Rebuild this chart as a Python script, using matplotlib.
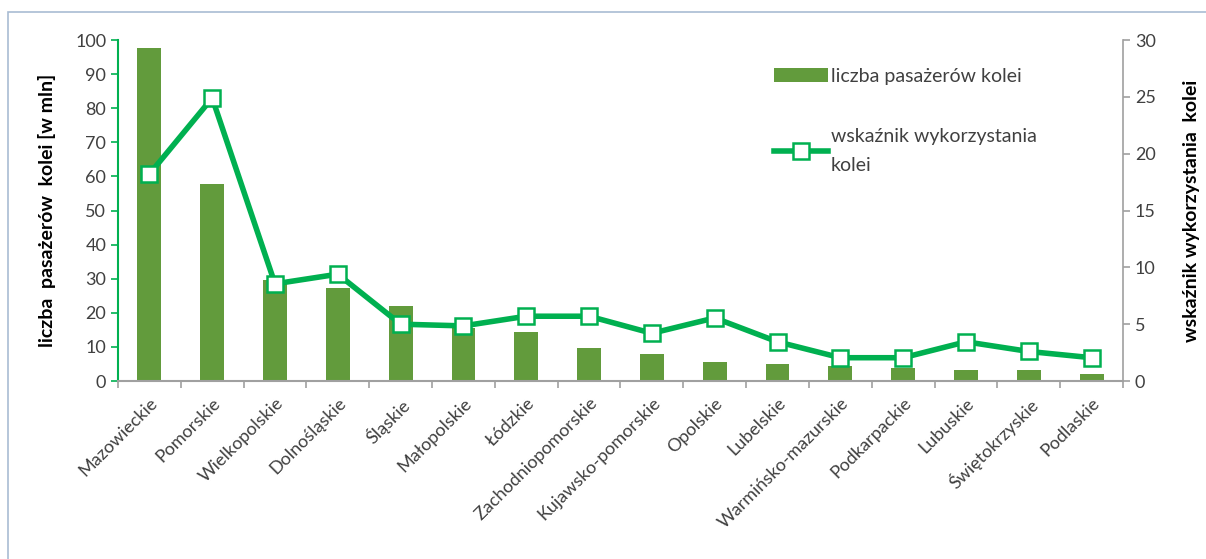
import matplotlib
matplotlib.use('Agg')
import numpy as np
import matplotlib.pyplot as plt
from matplotlib.patches import Rectangle

plt.rcParams['font.family'] = ['Lato', 'DejaVu Sans']

regiony = ['Mazowieckie', 'Pomorskie', 'Wielkopolskie', 'Dolnośląskie', 'Śląskie',
           'Małopolskie', 'Łódzkie', 'Zachodniopomorskie', 'Kujawsko-pomorskie',
           'Opolskie', 'Lubelskie', 'Warmińsko-mazurskie', 'Podkarpackie',
           'Lubuskie', 'Świętokrzyskie', 'Podlaskie']
pasazerowie = [97.6, 57.8, 29.6, 27.4, 22.1, 15.5, 14.4, 9.7, 7.9,
               5.5, 4.9, 4.4, 3.8, 3.2, 3.2, 2.0]
wskaznik = [18.2, 24.9, 8.55, 9.4, 5.0, 4.85, 5.7, 5.7, 4.2,
            5.55, 3.45, 2.05, 2.05, 3.45, 2.6, 2.05]

bar_col = '#629B3C'
line_col = '#00B050'
txt_col = '#404040'

fig = plt.figure(figsize=(12.06, 5.59), dpi=100)
ax = fig.add_axes([0.0978, 0.3184, 0.8334, 0.61])
ax2 = ax.twinx()

x = np.arange(len(regiony))
b = ax.bar(x, pasazerowie, width=0.38, color=bar_col, zorder=2,
           label='liczba pasażerów kolei')
l, = ax2.plot(x, wskaznik, color=line_col, lw=4, marker='s', ms=12,
              mfc='white', mec=line_col, mew=1.8, zorder=3,
              label='wskaźnik wykorzystania\nkolei')

ax.set_xlim(-0.5, len(regiony) - 0.5)
ax.set_ylim(0, 100)
ax2.set_ylim(0, 30)
ax.set_yticks(range(0, 101, 10))
ax2.set_yticks(range(0, 31, 5))

ax.set_xticks(x)
ax.set_xticklabels(regiony, rotation=45, ha='right', rotation_mode='anchor',
                   fontsize=13, color=txt_col)
ax.set_xticks(np.arange(-0.5, len(regiony), 1), minor=True)
ax.tick_params(axis='x', which='major', length=0, pad=10)
ax.tick_params(axis='x', which='minor', length=5, color='#A0A0A0', width=1.2)
ax.tick_params(axis='y', colors=line_col, labelcolor=txt_col, labelsize=13,
               length=5, width=1.2)
ax2.tick_params(axis='y', colors='#A0A0A0', labelcolor=txt_col, labelsize=13,
                length=5, width=1.2)

for a in (ax, ax2):
    a.spines['top'].set_visible(False)
ax.spines['left'].set_color(line_col)
ax.spines['left'].set_linewidth(1.5)
ax.spines['right'].set_visible(False)
ax2.spines['left'].set_visible(False)
ax2.spines['right'].set_color('#A0A0A0')
ax2.spines['right'].set_linewidth(1.2)
ax.spines['bottom'].set_color('#A0A0A0')
ax.spines['bottom'].set_linewidth(1.5)
ax2.spines['bottom'].set_visible(False)

ax.set_ylabel('liczba  pasażerów  kolei [w mln]', fontsize=14, fontweight='bold',
              labelpad=14)
ax2.set_ylabel('wskaźnik wykorzystania  kolei', fontsize=14, fontweight='bold',
               labelpad=20)

leg = ax.legend([b, l], [b.get_label(), l.get_label()], loc='upper left',
                bbox_to_anchor=(0.635, 0.97), frameon=False, fontsize=14,
                labelspacing=2.2, handlelength=2.8, handletextpad=0.15,
                labelcolor=txt_col)
for t in leg.get_texts():
    t.set_linespacing(1.9)

# frame around chart
fig.add_artist(Rectangle((8 / 1206, -0.1), 1.2, 1 - 12 / 559 + 0.1,
                         transform=fig.transFigure, fill=False,
                         ec='#A9BCD3', lw=1.2))

fig.savefig('out.png', dpi=100)
